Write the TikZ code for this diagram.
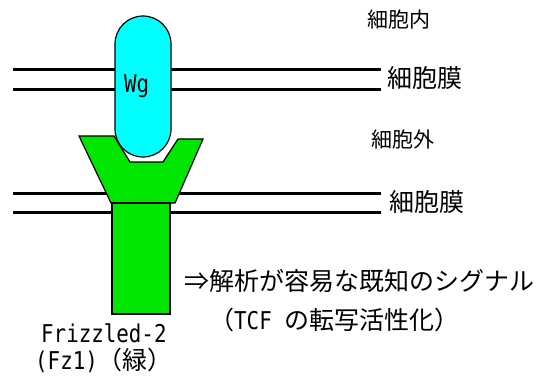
\documentclass[tikz,border=0pt]{standalone}
\usepackage{fontspec}
\setmainfont{Noto Sans CJK JP}
\newfontfamily\hw[FakeStretch=0.85]{DejaVu Sans Mono}
\newcommand{\hwt}[1]{{\hw\fontsize{24.5}{29}\selectfont #1}}
\definecolor{wgcyan}{RGB}{0,255,255}
\definecolor{fzgreen}{RGB}{0,230,0}
\begin{document}
\begin{tikzpicture}[x=1pt,y=-1pt,
  membrane/.style={line width=3pt},
  part/.style={draw=black,line width=1.2pt},
  bigtxt/.style={anchor=west,inner sep=0pt,font=\fontsize{25}{30}\selectfont},
  smalltxt/.style={anchor=west,inner sep=0pt,font=\fontsize{21}{25}\selectfont}]
\useasboundingbox (0,0) rectangle (551,378);
% two membranes
\draw[membrane] (13,69) -- (381,69) (13,89) -- (381,89);
\draw[membrane] (13,193) -- (381,193) (13,212) -- (381,212);
% Wg ligand
\draw[part,fill=wgcyan,rounded corners=28pt] (115,16) rectangle (171,157);
\node (wg) [anchor=base west,inner sep=0pt] at (124,92) {\hwt{Wg}};
% Frizzled receptor
\draw[part,fill=fzgreen] (79,136) -- (114,136) -- (130,162) -- (163,162)
  -- (178,139) -- (203,139) -- (175,203) -- (111,203) -- cycle;
\draw[part,fill=fzgreen] (112,203) rectangle (170,314);
% labels
\node (inside) [smalltxt] at (367,20) {細胞内};
\node (mem1) [bigtxt] at (387,78) {細胞膜};
\node (outside) [smalltxt] at (371,140) {細胞外};
\node (mem2) [bigtxt] at (389,202) {細胞膜};
\node (signal) [bigtxt] at (184,281) {⇒解析が容易な既知のシグナル};
\node (tcf) [bigtxt] at (209,320) {（\hwt{TCF }の転写活性化）};
\node (fz) [anchor=base west,inner sep=0pt,text depth=0pt] at (41,342) {\hwt{Frizzled-2}};
\node (fzsub) [anchor=base west,inner sep=0pt,text height=17pt,
  font=\fontsize{25}{30}\selectfont] at (35,369) {\hwt{(Fz1)}（緑）};
\end{tikzpicture}
\end{document}
